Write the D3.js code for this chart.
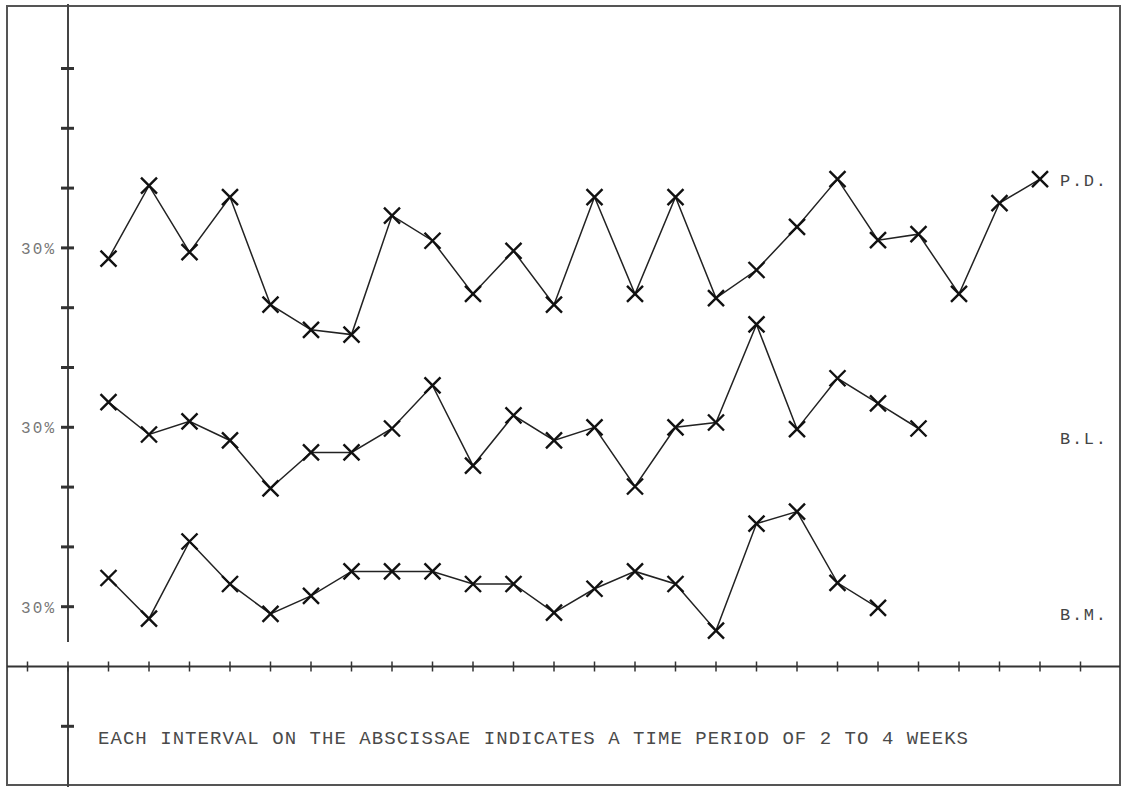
<!DOCTYPE html>
<html>
<head>
<meta charset="utf-8">
<script src="https://cdn.jsdelivr.net/npm/d3@7"></script>
<style>
  body { margin: 0; background: #fff; }
  svg { display: block; }
</style>
</head>
<body>
<div id="chart"></div>
<script>
// periods along the abscissa (tick index)
const periods = d3.range(-1, 26);

// percent values per series (each series has its own 30% baseline)
const pdValues = [28.2, 40.4, 29.3, 38.5, 20.5, 16.3, 15.5, 35.4, 31.2, 22.3, 29.5, 20.5,
  38.5, 22.3, 38.5, 21.6, 26.3, 33.5, 41.5, 31.3, 32.3, 22.3, 37.5, 41.5];
const blValues = [34.2, 28.8, 31.0, 27.8, 19.8, 25.8, 25.8, 29.8, 37.0, 23.6, 32.0, 27.8,
  30.0, 20.1, 30.0, 30.8, 47.2, 29.7, 38.2, 34.0, 29.8];
const bmValues = [34.8, 28.0, 40.9, 33.8, 28.8, 31.8, 35.9, 35.9, 35.9, 33.8, 33.8, 29.0,
  33.0, 35.9, 33.8, 26.0, 43.9, 45.9, 34.0, 29.8];

const seriesNames = ["P.D.", "B.L.", "B.M."];
const seriesOffsets = [60, 30, 0];   // vertical shift of each series, in percent units
const yTicks = [10, 30, 40, 50, 60, 70, 80, 90, 100, 110, 120];
const yLabelValues = [30, 30, 30];
const yLabelText = "30%";
const note = "EACH INTERVAL ON THE ABSCISSAE INDICATES A TIME PERIOD OF 2 TO 4 WEEKS";

const width = 1129;
const height = 787;
const frame = { left: 7, top: 6, right: 1120, bottom: 785 };

const svg = d3.select("#chart")
  .append("svg")
  .attr("width", width)
  .attr("height", height)
  .attr("viewBox", [0, 0, width, height]);

const x = d3.scaleLinear()
  .domain([0, 25])
  .range([68, 1080.5]);

const y = d3.scaleLinear()
  .domain([20, 120])
  .range([666.5, 68.5]);

const ink = "#222";
const frameInk = "#555";
const mono = "'Liberation Mono', 'DejaVu Sans Mono', monospace";

// outer frame
svg.append("rect")
  .attr("x", frame.left)
  .attr("y", frame.top)
  .attr("width", frame.right - frame.left)
  .attr("height", frame.bottom - frame.top)
  .attr("fill", "none")
  .attr("stroke", frameInk)
  .attr("stroke-width", 2);

// ordinate (with the small break just above the abscissa)
const axisG = svg.append("g").attr("stroke", "#444").attr("stroke-width", 2);
axisG.append("line")
  .attr("x1", x(0)).attr("x2", x(0))
  .attr("y1", 4).attr("y2", 642);
axisG.append("line")
  .attr("x1", x(0)).attr("x2", x(0))
  .attr("y1", y(20)).attr("y2", height);

// ordinate ticks
svg.append("g")
  .attr("stroke", "#333")
  .attr("stroke-width", 3)
  .selectAll("line")
  .data(yTicks)
  .join("line")
    .attr("x1", x(0) - 7)
    .attr("x2", x(0) + 6)
    .attr("y1", d => y(d))
    .attr("y2", d => y(d));

// abscissa
svg.append("line")
  .attr("x1", frame.left).attr("x2", frame.right)
  .attr("y1", y(20)).attr("y2", y(20))
  .attr("stroke", "#333")
  .attr("stroke-width", 2);

svg.append("g")
  .attr("stroke", "#333")
  .attr("stroke-width", 1.5)
  .selectAll("line")
  .data(periods)
  .join("line")
    .attr("x1", d => x(d))
    .attr("x2", d => x(d))
    .attr("y1", y(20) - 5)
    .attr("y2", y(20) + 5);

// "30%" labels
svg.append("g")
  .selectAll("text")
  .data(seriesOffsets)
  .join("text")
    .attr("x", 21)
    .attr("y", (d, i) => y(yLabelValues[i] + d) + 6)
    .attr("font-family", mono)
    .attr("font-size", 16)
    .attr("fill", "#777")
    .attr("textLength", 33)
    .attr("lengthAdjust", "spacing")
    .text(yLabelText);

// series
const allSeries = [pdValues, blValues, bmValues];
const line = d3.line()
  .x((d, i) => x(i + 1))
  .y(d => y(d));

const s = 8;
allSeries.forEach((vals, si) => {
  const pts = vals.map(v => v + seriesOffsets[si]);
  svg.append("path")
    .datum(pts)
    .attr("fill", "none")
    .attr("stroke", ink)
    .attr("stroke-width", 1.5)
    .attr("d", line);

  svg.append("g")
    .selectAll("path")
    .data(pts)
    .join("path")
      .attr("fill", "none")
      .attr("stroke", "#111")
      .attr("stroke-width", 2.4)
      .attr("d", (d, i) => {
        const cx = x(i + 1), cy = y(d);
        return `M${cx - s},${cy - s}L${cx + s},${cy + s}M${cx - s},${cy + s}L${cx + s},${cy - s}`;
      });
});

// series names on the right
const nameY = [y(pdValues[pdValues.length - 1] + seriesOffsets[0]) + 7, 444, 620];
svg.append("g")
  .selectAll("text")
  .data(seriesNames)
  .join("text")
    .attr("x", 1060)
    .attr("y", (d, i) => nameY[i])
    .attr("font-family", mono)
    .attr("font-size", 17)
    .attr("fill", "#444")
    .attr("textLength", 46)
    .attr("lengthAdjust", "spacing")
    .text(d => d);

// note under the abscissa
svg.append("text")
  .attr("x", 98)
  .attr("y", 744)
  .attr("font-family", mono)
  .attr("font-size", 19)
  .attr("fill", "#4a4a4a")
  .attr("textLength", 870)
  .attr("lengthAdjust", "spacing")
  .text(note);
</script>
</body>
</html>
